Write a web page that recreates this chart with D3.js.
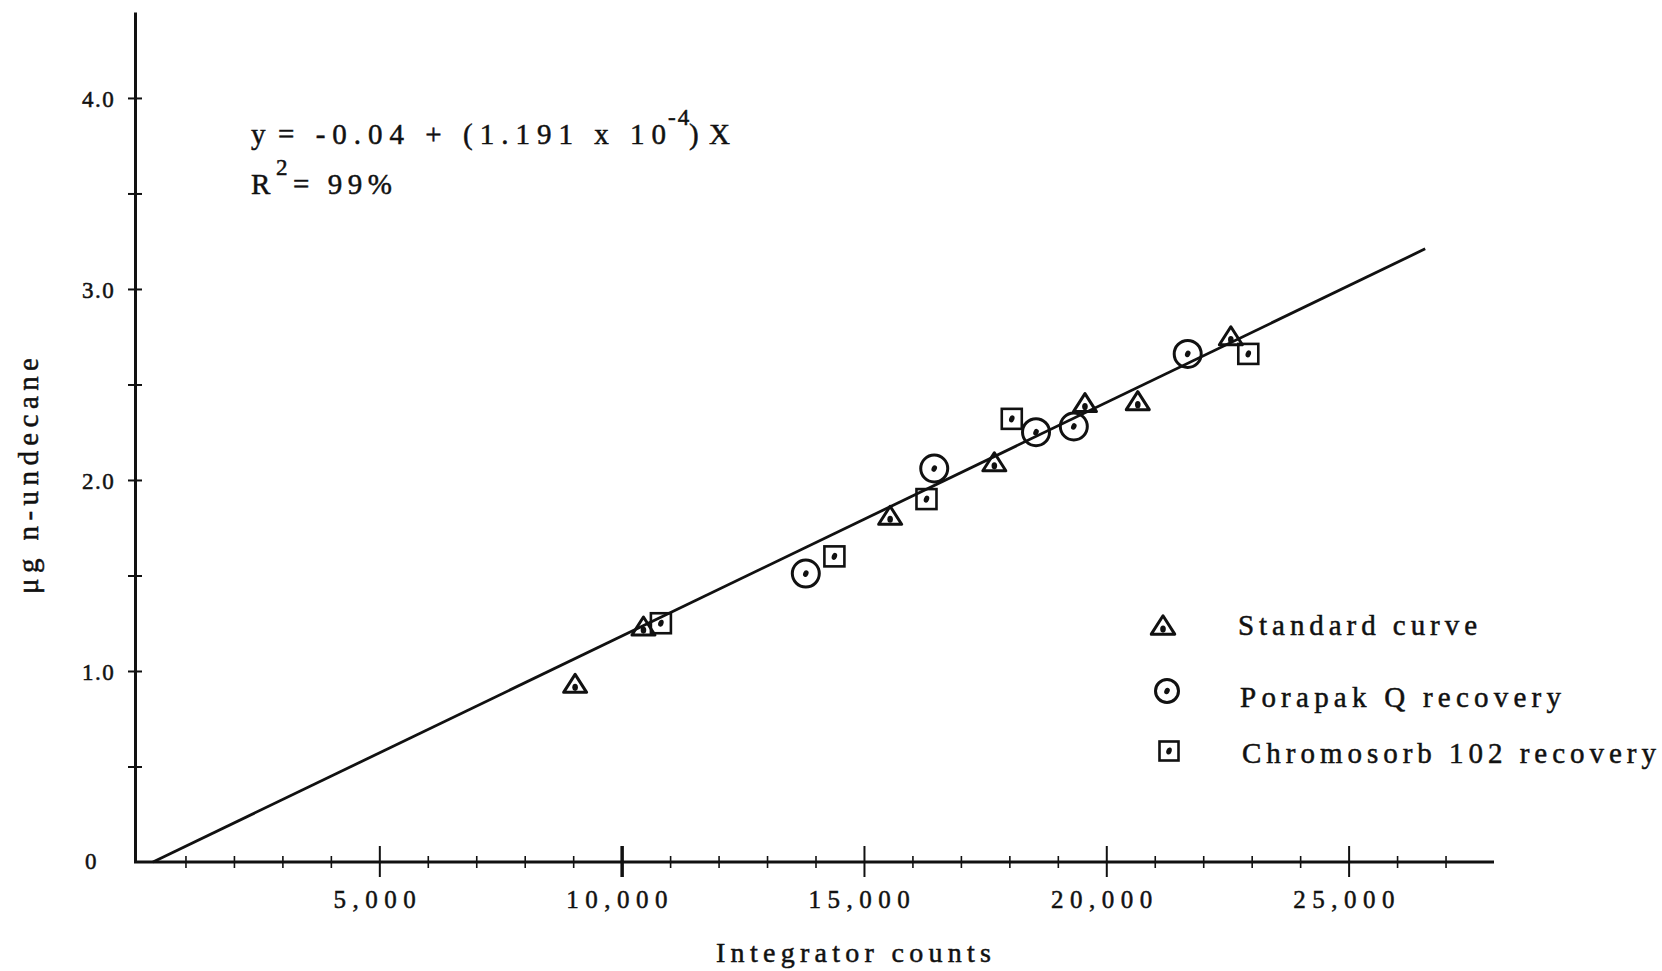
<!DOCTYPE html>
<html>
<head>
<meta charset="utf-8">
<script src="https://cdn.jsdelivr.net/npm/d3@7"></script>
<style>
  body { margin: 0; background: #fff; }
  text { font-family: "Liberation Serif", "Times New Roman", serif; fill: #111; stroke: #111; stroke-width: 0.5px; }
</style>
</head>
<body>
<div id="vis"></div>
<script>
// Data (integrator counts vs ug n-undecane)
const standardX = [9040, 10450, 15540, 17690, 19560, 20650, 22570];
const standardY = [0.93, 1.23, 1.81, 2.09, 2.40, 2.41, 2.75];
const porapakX = [13800, 16450, 18550, 19330, 21680];
const porapakY = [1.51, 2.06, 2.25, 2.28, 2.66];
const chromoX = [10810, 14390, 16290, 18050, 22930];
const chromoY = [1.25, 1.60, 1.90, 2.32, 2.66];
// regression line as drawn
const fitX = [330, 26580];
const fitY = [0, 3.21];

// ticks
const xTicks = d3.range(1000, 28000, 1000);
const xLabels = [5000, 10000, 15000, 20000, 25000];
const yTicks = [0, 0.5, 1, 1.5, 2, 2.5, 3, 3.5, 4];
const yLabels = [0, 1, 2, 3, 4];
const legendNames = ['Standard curve', 'Porapak Q recovery', 'Chromosorb 102 recovery'];

const W = 1662, H = 971;
const svg = d3.select('#vis').append('svg')
    .attr('width', W)
    .attr('height', H);

const xScale = d3.scaleLinear().domain([0, 28000]).range([137, 1494]);
const yScale = d3.scaleLinear().domain([0, 4.45]).range([862, 12]);

// x axis - ticks cross the line, longer at every 5,000
const xAxis = d3.axisBottom(xScale)
    .tickValues(xTicks)
    .tickSizeOuter(0)
    .tickFormat(d => xLabels.includes(d) ? d3.format(',')(d) : '');

const gx = svg.append('g')
    .attr('transform', `translate(0,${yScale(0)})`)
    .call(xAxis);
gx.select('.domain')
    .attr('stroke', '#111')
    .attr('stroke-width', 3)
    .attr('d', `M134,0H${xScale(28000)}`);
gx.selectAll('.tick line')
    .attr('stroke', '#111')
    .attr('y1', d => d % 5000 === 0 ? -16 : -6)
    .attr('y2', d => d % 5000 === 0 ? 15 : 6)
    .attr('stroke-width', d => d === 10000 ? 3.5 : (d % 5000 === 0 ? 2 : 1.6));
gx.selectAll('.tick text')
    .attr('y', 46)
    .attr('dy', 0)
    .attr('dx', -2)
    .attr('fill', '#111')
    .style('font-size', '25px')
    .style('letter-spacing', '6.5px')
    .style('font-family', '"Liberation Serif", serif');

// y axis
const yAxis = d3.axisLeft(yScale)
    .tickValues(yTicks)
    .tickSizeOuter(0)
    .tickFormat(d => yLabels.includes(d) ? (d === 0 ? '0' : d3.format('.1f')(d)) : '');

const gy = svg.append('g')
    .attr('transform', 'translate(135,0)')
    .call(yAxis);
gy.select('.domain')
    .attr('stroke', '#111')
    .attr('stroke-width', 3);
gy.selectAll('.tick line')
    .attr('stroke', '#111')
    .attr('stroke-width', 2)
    .attr('x1', -7)
    .attr('x2', 7)
    .attr('display', d => d === 0 ? 'none' : null);
gy.selectAll('.tick text')
    .attr('x', d => d === 0 ? -50 : -53)
    .attr('dy', d => d === 0 ? 6 : 9)
    .attr('fill', '#111')
    .style('text-anchor', 'start')
    .style('font-size', '23px')
    .style('letter-spacing', '1.5px')
    .style('font-family', '"Liberation Serif", serif');

// regression line
const line = d3.line()
    .x(d => xScale(d[0]))
    .y(d => yScale(d[1]));
svg.append('path')
    .datum(d3.zip(fitX, fitY))
    .attr('d', line)
    .attr('fill', 'none')
    .attr('stroke', '#111')
    .attr('stroke-width', 2.8);

// marker shapes, drawn around (0,0)
function triangle(g, s) {
    g.append('path')
        .attr('d', `M0,${-10 * s}L${11.5 * s},${8 * s}L${-11.5 * s},${8 * s}Z`)
        .attr('fill', 'none').attr('stroke', '#111').attr('stroke-width', 3)
        .attr('stroke-linejoin', 'round');
    g.append('ellipse').attr('cx', 0).attr('cy', 3 * s)
        .attr('rx', 2.8).attr('ry', 3.6).attr('fill', '#111');
}
function circle(g, r) {
    g.append('circle').attr('r', r)
        .attr('fill', 'none').attr('stroke', '#111').attr('stroke-width', 3);
    g.append('ellipse').attr('rx', 2.6).attr('ry', 3.4)
        .attr('transform', 'rotate(25)').attr('fill', '#111');
}
function square(g, a) {
    g.append('rect').attr('x', -a / 2).attr('y', -a / 2)
        .attr('width', a).attr('height', a)
        .attr('fill', 'none').attr('stroke', '#111').attr('stroke-width', 2.6);
    g.append('ellipse').attr('rx', 2.6).attr('ry', 3.6)
        .attr('transform', 'rotate(20)').attr('fill', '#111');
}

svg.append('g').selectAll('g')
    .data(d3.zip(porapakX, porapakY))
    .join('g')
    .attr('transform', d => `translate(${xScale(d[0])},${yScale(d[1])})`)
    .each(function () { circle(d3.select(this), 13.5); });

svg.append('g').selectAll('g')
    .data(d3.zip(chromoX, chromoY))
    .join('g')
    .attr('transform', d => `translate(${xScale(d[0])},${yScale(d[1])})`)
    .each(function () { square(d3.select(this), 20); });

svg.append('g').selectAll('g')
    .data(d3.zip(standardX, standardY))
    .join('g')
    .attr('transform', d => `translate(${xScale(d[0])},${yScale(d[1])})`)
    .each(function () { triangle(d3.select(this), 1); });

// legend
const legend = svg.append('g');
const legendRows = [
    {x: 1163, y: 626, draw: g => triangle(g, 1.02), tx: 1238, base: 635, len: 239},
    {x: 1167, y: 691, draw: g => circle(g, 11.5), tx: 1240, base: 707, len: 321},
    {x: 1169, y: 751, draw: g => square(g, 19), tx: 1242, base: 763, len: 414}
];
legendRows.forEach((r, i) => {
    const g = legend.append('g').attr('transform', `translate(${r.x},${r.y})`);
    r.draw(g);
    legend.append('text')
        .attr('x', r.tx)
        .attr('y', r.base)
        .attr('textLength', r.len)
        .attr('lengthAdjust', 'spacing')
        .style('font-size', '29px')
        .text(legendNames[i]);
});

// equation
const eq = svg.append('g').style('font-size', '29px');
eq.append('text').attr('x', 251).attr('y', 144).text('y');
eq.append('text').attr('x', 278).attr('y', 144)
    .attr('textLength', 388).attr('lengthAdjust', 'spacing')
    .text('= -0.04 + (1.191 x 10');
eq.append('text').attr('x', 668).attr('y', 125)
    .style('font-size', '23px').style('letter-spacing', '2px')
    .text('-4');
eq.append('text').attr('x', 689).attr('y', 144)
    .attr('textLength', 41).attr('lengthAdjust', 'spacing')
    .text(') X');

eq.append('text').attr('x', 251).attr('y', 194).text('R');
eq.append('text').attr('x', 276).attr('y', 175)
    .style('font-size', '23px').text('2');
eq.append('text').attr('x', 293).attr('y', 194)
    .attr('textLength', 99).attr('lengthAdjust', 'spacing')
    .text('= 99%');

// axis titles
svg.append('text')
    .attr('x', 716)
    .attr('y', 962)
    .attr('textLength', 275)
    .attr('lengthAdjust', 'spacing')
    .style('font-size', '28px')
    .text('Integrator counts');

svg.append('text')
    .attr('transform', 'rotate(-90)')
    .attr('x', -594)
    .attr('y', 38)
    .attr('textLength', 236)
    .attr('lengthAdjust', 'spacing')
    .style('font-size', '29px')
    .text('μg n-undecane');
</script>
</body>
</html>
